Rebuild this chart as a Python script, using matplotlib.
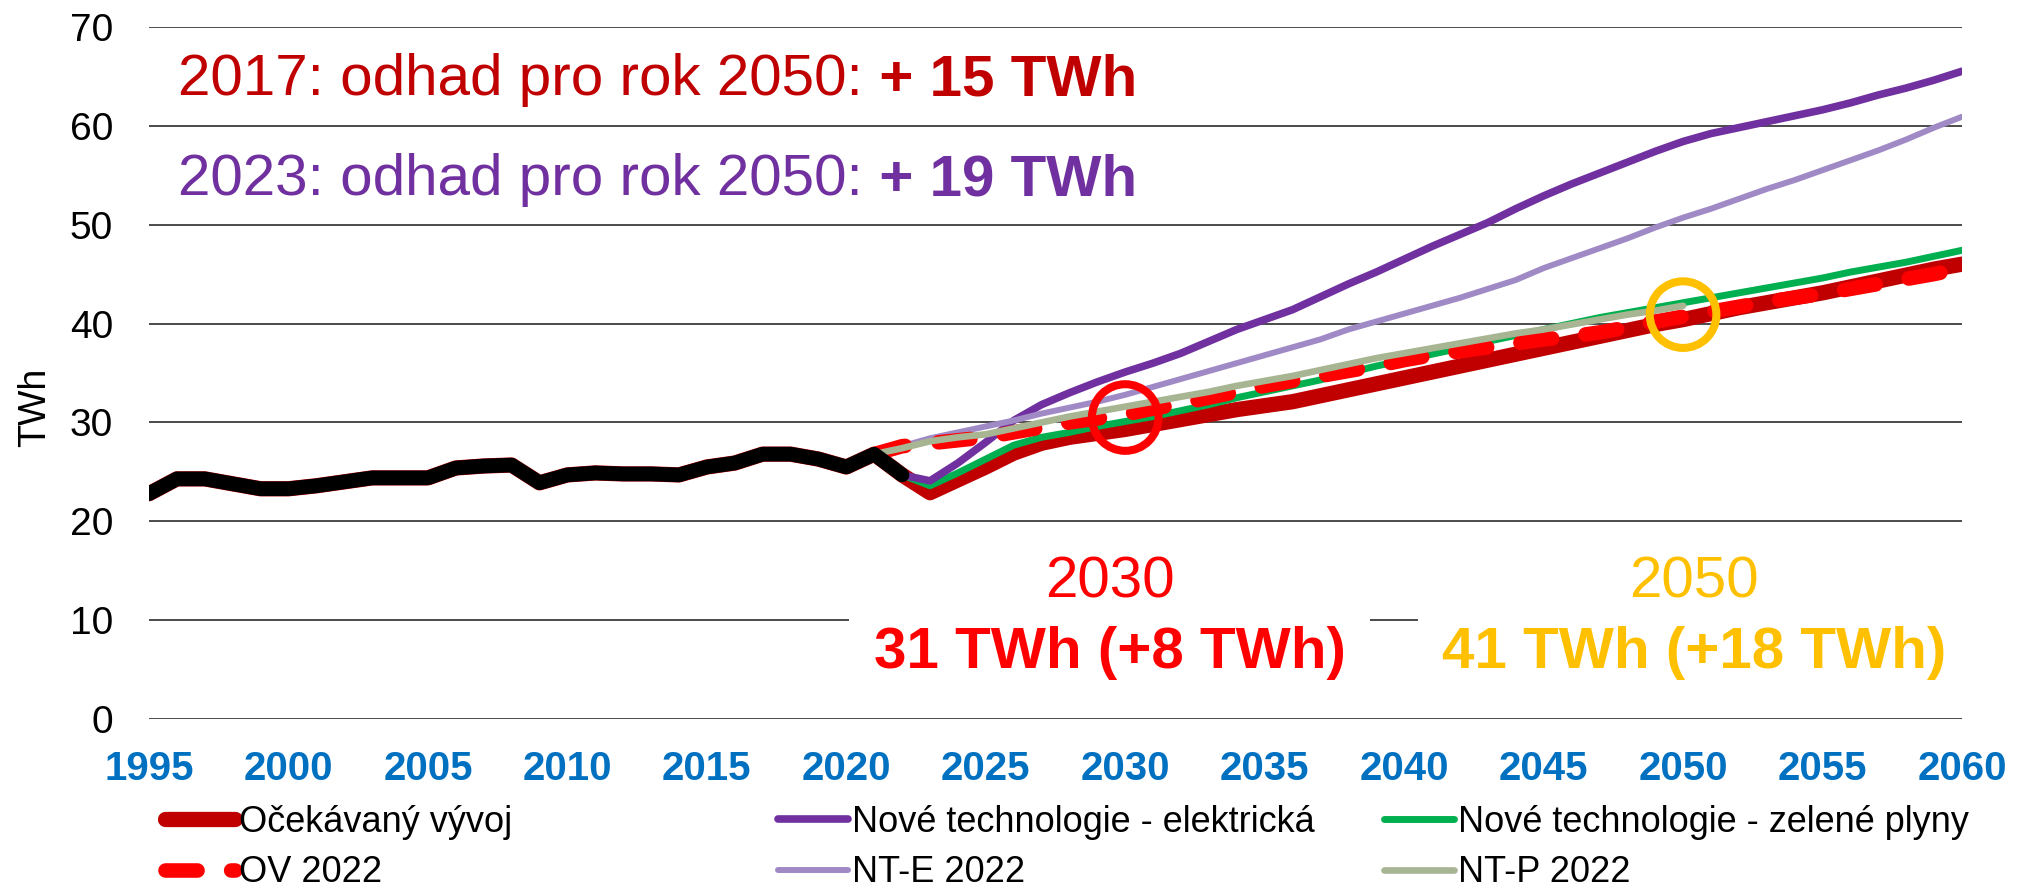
import matplotlib
matplotlib.use('Agg')
import matplotlib.pyplot as plt

plt.rcParams['font.family'] = ['Liberation Sans', 'DejaVu Sans']

# ---------------- data ----------------
hist_years = list(range(1995, 2023))
hist_values = [22.8, 24.3, 24.3, 23.8, 23.3, 23.3, 23.6, 24.0, 24.4, 24.4,
               24.4, 25.4, 25.6, 25.7, 23.9, 24.7, 24.9, 24.8, 24.8, 24.7,
               25.5, 25.9, 26.8, 26.8, 26.3, 25.5, 26.8, 24.7]

proj_years = list(range(2022, 2061))
ocekavany = [24.7, 22.9, 24.2, 25.5, 26.9, 27.9, 28.5, 28.9, 29.3, 29.8,
             30.3, 30.8, 31.3, 31.7, 32.1, 32.7, 33.3, 33.9, 34.5, 35.1,
             35.7, 36.3, 36.9, 37.5, 38.1, 38.7, 39.3, 39.9, 40.4, 41.0,
             41.6, 42.1, 42.6, 43.1, 43.7, 44.3, 44.9, 45.5, 46.0]
zelene = [24.7, 23.6, 24.9, 26.3, 27.7, 28.5, 29.0, 29.6, 30.1, 30.6,
          31.2, 31.8, 32.5, 33.1, 33.7, 34.3, 35.0, 35.7, 36.3, 36.9,
          37.5, 38.2, 38.8, 39.4, 40.0, 40.6, 41.1, 41.6, 42.1, 42.6,
          43.1, 43.6, 44.1, 44.6, 45.2, 45.7, 46.2, 46.8, 47.4]
elektricka = [24.7, 24.1, 25.9, 28.0, 30.2, 31.8, 33.0, 34.1, 35.1, 36.0,
              37.0, 38.2, 39.4, 40.4, 41.4, 42.7, 44.0, 45.2, 46.5, 47.8,
              49.0, 50.2, 51.6, 52.9, 54.1, 55.2, 56.3, 57.4, 58.4, 59.2,
              59.8, 60.4, 61.0, 61.6, 62.3, 63.1, 63.8, 64.6, 65.5]

s2022_years = list(range(2021, 2061))
ov2022 = [26.8, 27.6, 27.9, 28.2, 28.5, 29.0, 29.5, 30.0, 30.4, 30.8,
          31.4, 31.9, 32.5, 33.1, 33.7, 34.2, 34.7, 35.2, 35.7, 36.3,
          36.8, 37.2, 37.6, 38.0, 38.4, 38.7, 39.1, 39.6, 40.2, 40.7,
          41.2, 41.7, 42.2, 42.6, 43.0, 43.5, 44.0, 44.5, 45.0, 45.6]
nte2022 = [26.8, 27.6, 28.4, 29.0, 29.6, 30.2, 30.9, 31.5, 32.1, 32.8,
           33.6, 34.4, 35.2, 36.0, 36.8, 37.6, 38.4, 39.4, 40.2, 41.0,
           41.8, 42.6, 43.5, 44.4, 45.6, 46.6, 47.6, 48.6, 49.7, 50.7,
           51.6, 52.6, 53.6, 54.5, 55.5, 56.5, 57.5, 58.6, 59.8, 60.9]

ntp_years = list(range(2021, 2051))
ntp2022 = [26.8, 27.4, 28.1, 28.5, 28.8, 29.4, 30.0, 30.6, 31.1, 31.6,
           32.1, 32.6, 33.1, 33.7, 34.2, 34.7, 35.3, 35.9, 36.5, 37.0,
           37.5, 38.0, 38.5, 39.0, 39.4, 39.9, 40.4, 40.9, 41.3, 41.8]

highlight_years = [2030, 2050]
highlight_values = [30.5, 40.9]

x_ticks = list(range(1995, 2061, 5))
y_ticks = list(range(0, 71, 10))

labels = ['Očekávaný vývoj', 'OV 2022',
          'Nové technologie - elektrická', 'NT-E 2022',
          'Nové technologie - zelené plyny', 'NT-P 2022']

# ---------------- colours ----------------
C_DARKRED = '#C00000'
C_RED = '#FF0000'
C_PURPLE = '#7030A0'
C_LPURPLE = '#A08AC6'
C_GREEN = '#00B050'
C_GRAYGREEN = '#A7B592'
C_GOLD = '#FFC000'
C_BLUE = '#0070C0'

W, H = 2023, 889
fig = plt.figure(figsize=(W / 100, H / 100), dpi=100)
ax = fig.add_axes([149 / W, 1 - 719.3 / H, (1962 - 149) / W, (719.3 - 26.7) / H])

ax.set_xlim(1995, 2060)
ax.set_ylim(0, 70)

for s in ax.spines.values():
    s.set_visible(False)
ax.set_yticks(y_ticks)
ax.set_xticks(x_ticks)
ax.grid(axis='y', color='#1a1a1a', linewidth=1.1, zorder=0)
ax.grid(axis='x', visible=False)
ax.tick_params(axis='both', length=0)
ax.tick_params(axis='y', labelsize=28, pad=26)
ax.tick_params(axis='x', labelsize=29, pad=22, labelcolor=C_BLUE)
for lab in ax.get_xticklabels():
    lab.set_fontweight('bold')

ax.set_ylabel('TWh', fontsize=27)
ax.yaxis.set_label_coords(-0.053, 0.45)

common = dict(solid_capstyle='round', solid_joinstyle='round',
              dash_capstyle='round', dash_joinstyle='round')

l_oc, = ax.plot(hist_years + proj_years[1:], hist_values + ocekavany[1:],
                color=C_DARKRED, lw=11, zorder=2, **common)
l_ze, = ax.plot(proj_years, zelene, color=C_GREEN, lw=5, zorder=3, **common)
l_el, = ax.plot(proj_years, elektricka, color=C_PURPLE, lw=5.5, zorder=4, **common)
l_nte, = ax.plot(s2022_years, nte2022, color=C_LPURPLE, lw=4.3, zorder=5, **common)
l_ov, = ax.plot(s2022_years, ov2022, color=C_RED, lw=10.5, zorder=6,
                dashes=(2.2, 2.3), **common)
l_ntp, = ax.plot(ntp_years, ntp2022, color=C_GRAYGREEN, lw=4.8, zorder=7, **common)
ax.plot(hist_years, hist_values, color='black', lw=10.5, zorder=8, **common)

ax.scatter(highlight_years, highlight_values, s=2300, facecolors='none',
           edgecolors=[C_RED, C_GOLD], linewidths=5.8, zorder=12)

# ---------------- annotations ----------------
ax.text(2029.45, 12.36, '2030', color=C_RED, fontsize=42, ha='center',
        va='baseline', zorder=20)
ax.text(2029.45, 5.18, '31 TWh (+8 TWh)', color=C_RED, fontsize=42,
        fontweight='bold', ha='center', va='baseline', zorder=15,
        bbox=dict(boxstyle='square,pad=0.42', fc='white', ec='none'))
ax.text(2050.4, 12.36, '2050', color=C_GOLD, fontsize=42, ha='center',
        va='baseline', zorder=20)
ax.text(2050.4, 5.18, '41 TWh (+18 TWh)', color=C_GOLD, fontsize=42,
        fontweight='bold', ha='center', va='baseline', zorder=15,
        bbox=dict(boxstyle='square,pad=0.42', fc='white', ec='none'))

t1 = fig.text(178 / W, 1 - 95 / H, '2017: odhad pro rok 2050:', color=C_DARKRED,
              fontsize=42, va='baseline')
t2 = fig.text(178 / W, 1 - 195 / H, '2023: odhad pro rok 2050:', color=C_PURPLE,
              fontsize=42, va='baseline')
fig.canvas.draw()
r = fig.canvas.get_renderer()
b1 = t1.get_window_extent(r)
b2 = t2.get_window_extent(r)
fig.text(b1.x1 / W, 1 - 95 / H, ' + 15 TWh', color=C_DARKRED, fontsize=42,
         fontweight='bold', va='baseline')
fig.text(b2.x1 / W, 1 - 195 / H, ' + 19 TWh', color=C_PURPLE, fontsize=42,
         fontweight='bold', va='baseline')

# ---------------- legend (three columns) ----------------
cols = [([l_oc, l_ov], labels[0:2], 165),
        ([l_el, l_nte], labels[2:4], 778),
        ([l_ze, l_ntp], labels[4:6], 1384)]
for handles, labs, xpx in cols:
    fig.legend(handles, labs, loc='upper left',
               bbox_to_anchor=(xpx / W, 1 - 805 / H),
               frameon=False, fontsize=26, handlelength=1.95,
               handletextpad=0.1, labelspacing=0.42, borderpad=0,
               borderaxespad=0)

fig.savefig('out.png', dpi=100)
